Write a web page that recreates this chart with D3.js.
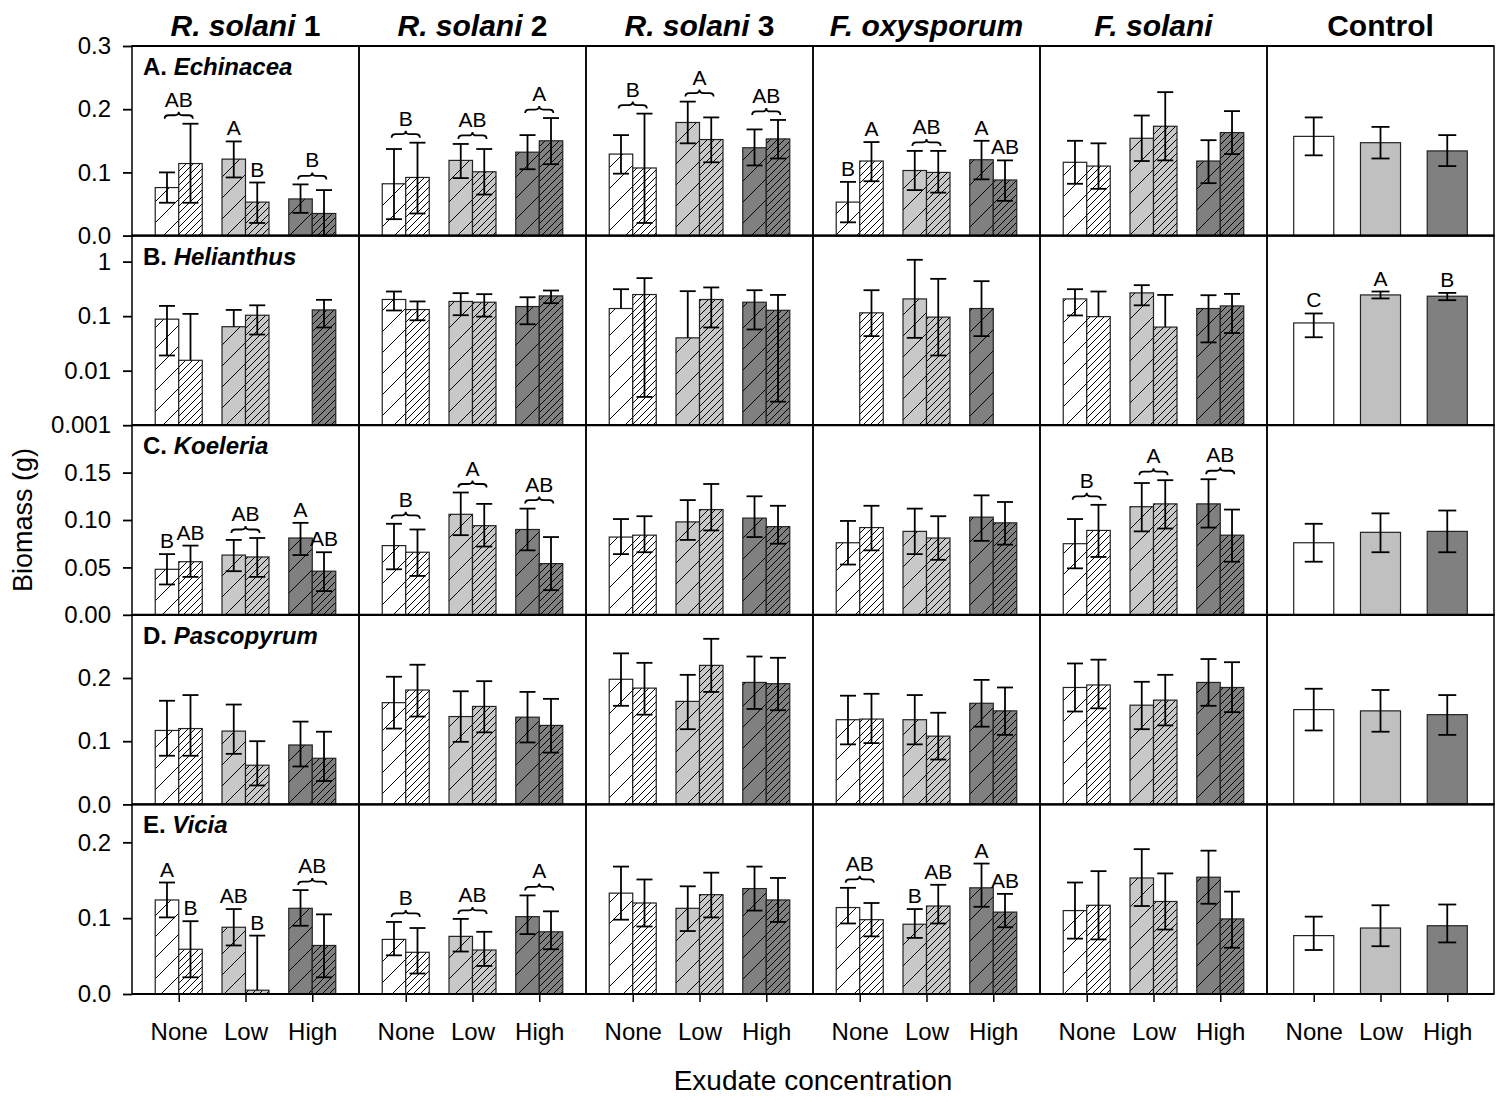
<!DOCTYPE html>
<html>
<head>
<meta charset="utf-8">
<script src="https://cdn.jsdelivr.net/npm/d3@7"></script>
<style>
	body { margin: 0; background: #fff; }
	text { font-family: Arial, "Liberation Sans", sans-serif; fill: #000; }
</style>
</head>
<body>
<svg id="chart" width="1501" height="1102"></svg>
<script>
// column titles: [italic part, plain part]
const pathogens = [["R. solani", " 1"], ["R. solani", " 2"], ["R. solani", " 3"], ["F. oxysporum", ""], ["F. solani", ""], ["", "Control"]];
const plants = [["A.", "Echinacea"], ["B.", "Helianthus"], ["C.", "Koeleria"], ["D.", "Pascopyrum"], ["E.", "Vicia"]];
const levels = ["None", "Low", "High"];

// each pathogen column: [mean, low, high] for None-a, None-b, Low-a, Low-b, High-a, High-b
// last column (Control): None, Low, High. null = no bar / no lower whisker
const echinacea = [
	[[0.076, 0.052, 0.100], [0.114, 0.052, 0.177], [0.121, 0.092, 0.149], [0.053, 0.020, 0.084], [0.058, 0.036, 0.081], [0.035, 0.000, 0.072]],
	[[0.082, 0.026, 0.137], [0.092, 0.035, 0.147], [0.119, 0.091, 0.145], [0.101, 0.065, 0.137], [0.132, 0.105, 0.159], [0.150, 0.113, 0.186]],
	[[0.129, 0.098, 0.159], [0.107, 0.020, 0.193], [0.179, 0.146, 0.212], [0.152, 0.116, 0.187], [0.139, 0.111, 0.168], [0.153, 0.122, 0.183]],
	[[0.053, 0.021, 0.085], [0.118, 0.086, 0.148], [0.103, 0.072, 0.134], [0.100, 0.068, 0.134], [0.120, 0.089, 0.150], [0.088, 0.055, 0.119]],
	[[0.116, 0.082, 0.150], [0.110, 0.074, 0.146], [0.154, 0.118, 0.190], [0.173, 0.119, 0.227], [0.118, 0.083, 0.151], [0.163, 0.129, 0.197]],
	[[0.157, 0.127, 0.187], [0.147, 0.122, 0.172], [0.134, 0.110, 0.159]]
];
const helianthus = [
	[[0.088, 0.019, 0.154], [0.0155, null, 0.110], [0.064, null, 0.130], [0.104, 0.046, 0.158], null, [0.130, 0.062, 0.199]],
	[[0.202, 0.127, 0.283], [0.132, 0.084, 0.186], [0.186, 0.104, 0.264], [0.180, 0.098, 0.253], [0.150, 0.071, 0.222], [0.235, 0.173, 0.295]],
	[[0.138, null, 0.312], [0.249, 0.0033, 0.498], [0.040, null, 0.287], [0.202, 0.062, 0.336], [0.180, 0.057, 0.299], [0.128, 0.0027, 0.245]],
	[null, [0.115, 0.043, 0.299], [0.207, 0.040, 1.08], [0.096, 0.019, 0.483], [0.138, 0.043, 0.438], null],
	[[0.207, 0.103, 0.312], [0.098, null, 0.283], [0.267, 0.158, 0.370], [0.063, null, 0.245], [0.138, 0.033, 0.242], [0.154, 0.049, 0.256]],
	[[0.075, 0.041, 0.112], [0.245, 0.211, 0.283], [0.232, 0.196, 0.267]]
];
const koeleria = [
	[[0.048, 0.032, 0.064], [0.056, 0.040, 0.073], [0.063, 0.046, 0.079], [0.061, 0.040, 0.081], [0.081, 0.063, 0.097], [0.046, 0.025, 0.066]],
	[[0.073, 0.048, 0.096], [0.066, 0.041, 0.090], [0.106, 0.084, 0.129], [0.094, 0.072, 0.117], [0.090, 0.068, 0.112], [0.054, 0.026, 0.082]],
	[[0.082, 0.064, 0.101], [0.084, 0.066, 0.104], [0.098, 0.079, 0.121], [0.111, 0.089, 0.138], [0.102, 0.082, 0.125], [0.093, 0.075, 0.115]],
	[[0.076, 0.053, 0.099], [0.092, 0.068, 0.115], [0.088, 0.064, 0.112], [0.081, 0.058, 0.104], [0.103, 0.078, 0.126], [0.097, 0.074, 0.119]],
	[[0.075, 0.049, 0.101], [0.089, 0.061, 0.116], [0.114, 0.088, 0.139], [0.117, 0.091, 0.142], [0.117, 0.092, 0.143], [0.084, 0.056, 0.111]],
	[[0.076, 0.056, 0.096], [0.087, 0.066, 0.107], [0.088, 0.066, 0.110]]
];
const pascopyrum = [
	[[0.117, 0.077, 0.164], [0.120, 0.077, 0.173], [0.116, 0.080, 0.158], [0.062, 0.030, 0.100], [0.094, 0.060, 0.131], [0.073, 0.037, 0.115]],
	[[0.161, 0.120, 0.202], [0.181, 0.139, 0.221], [0.139, 0.099, 0.179], [0.155, 0.114, 0.195], [0.138, 0.098, 0.178], [0.125, 0.082, 0.167]],
	[[0.198, 0.156, 0.239], [0.184, 0.142, 0.224], [0.163, 0.119, 0.205], [0.220, 0.178, 0.262], [0.193, 0.151, 0.234], [0.191, 0.149, 0.232]],
	[[0.134, 0.095, 0.172], [0.135, 0.097, 0.175], [0.134, 0.095, 0.173], [0.108, 0.071, 0.145], [0.160, 0.123, 0.197], [0.148, 0.110, 0.185]],
	[[0.185, 0.147, 0.223], [0.189, 0.152, 0.229], [0.157, 0.119, 0.194], [0.165, 0.125, 0.205], [0.193, 0.156, 0.230], [0.185, 0.146, 0.225]],
	[[0.150, 0.117, 0.183], [0.148, 0.115, 0.181], [0.142, 0.110, 0.173]]
];
const vicia = [
	[[0.124, 0.101, 0.147], [0.059, 0.022, 0.096], [0.088, 0.064, 0.112], [0.005, null, 0.077], [0.113, 0.090, 0.137], [0.064, 0.022, 0.105]],
	[[0.072, 0.051, 0.095], [0.055, 0.027, 0.087], [0.076, 0.056, 0.099], [0.058, 0.037, 0.082], [0.102, 0.079, 0.130], [0.082, 0.059, 0.109]],
	[[0.133, 0.098, 0.168], [0.120, 0.089, 0.151], [0.113, 0.083, 0.142], [0.131, 0.101, 0.160], [0.139, 0.110, 0.168], [0.124, 0.095, 0.153]],
	[[0.114, 0.093, 0.140], [0.098, 0.076, 0.120], [0.092, 0.074, 0.112], [0.116, 0.093, 0.144], [0.140, 0.115, 0.172], [0.108, 0.088, 0.132]],
	[[0.110, 0.073, 0.147], [0.117, 0.072, 0.162], [0.153, 0.116, 0.191], [0.122, 0.085, 0.159], [0.154, 0.119, 0.189], [0.099, 0.061, 0.135]],
	[[0.077, 0.058, 0.102], [0.087, 0.063, 0.117], [0.090, 0.068, 0.118]]
];

// significance letters: [column, level index, bar ("pair" = both, brace), text]
const lettersA = [[0, 0, "pair", "AB"], [0, 1, 0, "A"], [0, 1, 1, "B"], [0, 2, "pair", "B"],
	[1, 0, "pair", "B"], [1, 1, "pair", "AB"], [1, 2, "pair", "A"],
	[2, 0, "pair", "B"], [2, 1, "pair", "A"], [2, 2, "pair", "AB"],
	[3, 0, 0, "B"], [3, 0, 1, "A"], [3, 1, "pair", "AB"], [3, 2, 0, "A"], [3, 2, 1, "AB"]];
const lettersB = [[5, 0, 0, "C"], [5, 1, 0, "A"], [5, 2, 0, "B"]];
const lettersC = [[0, 0, 0, "B"], [0, 0, 1, "AB"], [0, 1, "pair", "AB"], [0, 2, 0, "A"], [0, 2, 1, "AB"],
	[1, 0, "pair", "B"], [1, 1, "pair", "A"], [1, 2, "pair", "AB"],
	[4, 0, "pair", "B"], [4, 1, "pair", "A"], [4, 2, "pair", "AB"]];
const lettersD = [];
const lettersE = [[0, 0, 0, "A"], [0, 0, 1, "B"], [0, 1, 0, "AB"], [0, 1, 1, "B"], [0, 2, "pair", "AB"],
	[1, 0, "pair", "B"], [1, 1, "pair", "AB"], [1, 2, "pair", "A"],
	[3, 0, "pair", "AB"], [3, 1, 0, "B"], [3, 1, 1, "AB"], [3, 2, 0, "A"], [3, 2, 1, "AB"]];

const ticksA = [0, 0.1, 0.2, 0.3], tickLabelsA = ["0.0", "0.1", "0.2", "0.3"];
const ticksB = [0.001, 0.01, 0.1, 1], tickLabelsB = ["0.001", "0.01", "0.1", "1"];
const ticksC = [0, 0.05, 0.1, 0.15], tickLabelsC = ["0.00", "0.05", "0.10", "0.15"];
const ticksD = [0, 0.1, 0.2], tickLabelsD = ["0.0", "0.1", "0.2"];
const ticksE = [0, 0.1, 0.2], tickLabelsE = ["0.0", "0.1", "0.2"];

const rows = [
	{ data: echinacea, letters: lettersA, y: d3.scaleLinear().domain([0, 0.3]), ticks: ticksA, labels: tickLabelsA },
	{ data: helianthus, letters: lettersB, y: d3.scaleLog().domain([0.001, 3]), ticks: ticksB, labels: tickLabelsB },
	{ data: koeleria, letters: lettersC, y: d3.scaleLinear().domain([0, 0.2]), ticks: ticksC, labels: tickLabelsC },
	{ data: pascopyrum, letters: lettersD, y: d3.scaleLinear().domain([0, 0.3]), ticks: ticksD, labels: tickLabelsD },
	{ data: vicia, letters: lettersE, y: d3.scaleLinear().domain([0, 0.25]), ticks: ticksE, labels: tickLabelsE }
];

const plotL = 132, plotR = 1494, plotT = 46, plotB = 994;
const colW = (plotR - plotL) / 6, rowH = (plotB - plotT) / 5;
const fills = ["#ffffff", "#c8c8c8", "#808080"];
const controlFills = ["#ffffff", "#c0c0c0", "#808080"];

const svg = d3.select('#chart');
const defs = svg.append('defs');

function addPattern(id, bg, p) {
	const pat = defs.append('pattern')
		.attr('id', id)
		.attr('patternUnits', 'userSpaceOnUse')
		.attr('width', p)
		.attr('height', p);
	pat.append('rect').attr('width', p).attr('height', p).attr('fill', bg);
	pat.append('path')
		.attr('d', `M0,${p} L${p},0 M${-p / 2},${p / 2} L${p / 2},${-p / 2} M${p / 2},${p * 1.5} L${p * 1.5},${p / 2}`)
		.attr('stroke', '#000')
		.attr('stroke-width', 1);
}

fills.forEach((c, i) => {
	addPattern(`sparse${i}`, c, 21);
	addPattern(`dense${i}`, c, 7);
});

function bracePath(cx, hw, yb, h) {
	const x0 = cx - hw, x1 = cx + hw, ym = yb - h / 2, yt = yb - h;
	return `M${x0},${yb} Q${x0},${ym} ${x0 + 4},${ym} L${cx - 4},${ym} Q${cx},${ym} ${cx},${yt}` +
		` Q${cx},${ym} ${cx + 4},${ym} L${x1 - 4},${ym} Q${x1},${ym} ${x1},${yb}`;
}

function drawErr(g, x, y, d, capW) {
	const [m, lo, hi] = d;
	const yLo = lo == null ? y(m) : y(Math.max(lo, y.domain()[0]));
	g.append('line').attr('x1', x).attr('x2', x).attr('y1', y(hi)).attr('y2', yLo);
	g.append('line').attr('x1', x - capW / 2).attr('x2', x + capW / 2).attr('y1', y(hi)).attr('y2', y(hi));
	if (lo != null) {
		g.append('line').attr('x1', x - capW / 2).attr('x2', x + capW / 2).attr('y1', yLo).attr('y2', yLo);
	}
}

rows.forEach((row, r) => {
	const y0 = plotT + r * rowH, y1 = y0 + rowH;
	const y = row.y.range([y1, y0]).clamp(true);

	for (let c = 0; c < 6; c++) {
		const x = d3.scalePoint().domain(levels).range([plotL + c * colW, plotL + (c + 1) * colW]).padding(0.7);
		const step = x.step();
		const barW = step * 0.352;
		const ctrlW = step * 0.6;
		const g = svg.append('g');
		const errG = svg.append('g').attr('stroke', '#000').attr('stroke-width', 1.8);
		const isControl = c === 5;

		row.data[c].forEach((d, i) => {
			if (d == null) return;
			const lev = isControl ? i : Math.floor(i / 2);
			const k = i % 2;
			const cx = isControl ? x(levels[lev]) : x(levels[lev]) - barW / 2 + k * barW;
			const w = isControl ? ctrlW : barW;
			g.append('rect')
				.attr('x', cx - w / 2)
				.attr('y', y(d[0]))
				.attr('width', w)
				.attr('height', y1 - y(d[0]))
				.attr('fill', isControl ? controlFills[lev] : `url(#${k === 0 ? 'sparse' : 'dense'}${lev})`)
				.attr('stroke', '#222')
				.attr('stroke-width', 1.2);
			drawErr(errG, cx, y, d, isControl ? 18 : 16);
		});

		// letters
		row.letters.filter(l => l[0] === c).forEach(([col, lev, which, txt]) => {
			const gx = x(levels[lev]);
			if (which === 'pair') {
				const a = row.data[c][lev * 2], b = row.data[c][lev * 2 + 1];
				const yb = Math.min(y(a[2]), y(b[2])) - 5;
				svg.append('path')
					.attr('d', bracePath(gx, barW * 0.6, yb, 7))
					.attr('fill', 'none')
					.attr('stroke', '#000')
					.attr('stroke-width', 1.8);
				svg.append('text')
					.attr('x', gx)
					.attr('y', yb - 12)
					.attr('text-anchor', 'middle')
					.style('font-size', '21px')
					.text(txt);
			} else {
				const idx = isControl ? lev : lev * 2 + which;
				const d = row.data[c][idx];
				const bx = isControl ? gx : gx - barW / 2 + which * barW;
				svg.append('text')
					.attr('x', bx)
					.attr('y', y(d[2]) - 6)
					.attr('text-anchor', 'middle')
					.style('font-size', '21px')
					.text(txt);
			}
		});

		// panel frame
		svg.append('rect')
			.attr('x', plotL + c * colW)
			.attr('y', y0)
			.attr('width', colW)
			.attr('height', rowH)
			.attr('fill', 'none')
			.attr('stroke', '#000')
			.attr('stroke-width', 1.5);

		if (r === 4) {
			const ax = svg.append('g')
				.attr('transform', `translate(0,${plotB})`)
				.call(d3.axisBottom(x).tickSize(8).tickPadding(21));
			ax.select('.domain').remove();
			ax.selectAll('line').attr('stroke', '#000').attr('stroke-width', 1.5);
			ax.selectAll('text').style('font-size', '24px').attr('fill', '#000');
		}
	}

	// row separator lines, a bit heavier
	svg.append('line')
		.attr('x1', plotL).attr('x2', plotR)
		.attr('y1', y1).attr('y2', y1)
		.attr('stroke', '#000').attr('stroke-width', 2.2);

	const ay = svg.append('g')
		.attr('transform', `translate(${plotL},0)`)
		.call(d3.axisLeft(y).tickValues(row.ticks).tickFormat((d, i) => row.labels[i]).tickSize(9).tickPadding(12));
	ay.select('.domain').remove();
	ay.selectAll('line').attr('stroke', '#000').attr('stroke-width', 1.8);
	ay.selectAll('text').style('font-size', '24px').attr('fill', '#000');

	// panel label
	const pl = svg.append('text')
		.attr('x', plotL + 11)
		.attr('y', y0 + 29)
		.style('font-size', '24px')
		.style('font-weight', 'bold');
	pl.append('tspan').text(plants[r][0] + ' ');
	pl.append('tspan').style('font-style', 'italic').text(plants[r][1]);
});

svg.append('line')
	.attr('x1', plotL).attr('x2', plotR)
	.attr('y1', plotT).attr('y2', plotT)
	.attr('stroke', '#000').attr('stroke-width', 2.2);

// column titles
pathogens.forEach(([it, plain], c) => {
	const t = svg.append('text')
		.attr('x', plotL + (c + 0.5) * colW)
		.attr('y', 36)
		.attr('text-anchor', 'middle')
		.style('font-size', '30px')
		.style('font-weight', 'bold');
	if (it) t.append('tspan').style('font-style', 'italic').text(it);
	if (plain) t.append('tspan').text(plain);
});

svg.append('text')
	.attr('transform', `translate(32,${(plotT + plotB) / 2}) rotate(-90)`)
	.attr('text-anchor', 'middle')
	.style('font-size', '27px')
	.text('Biomass (g)');

svg.append('text')
	.attr('x', (plotL + plotR) / 2)
	.attr('y', 1090)
	.attr('text-anchor', 'middle')
	.style('font-size', '28px')
	.text('Exudate concentration');
</script>
</body>
</html>
